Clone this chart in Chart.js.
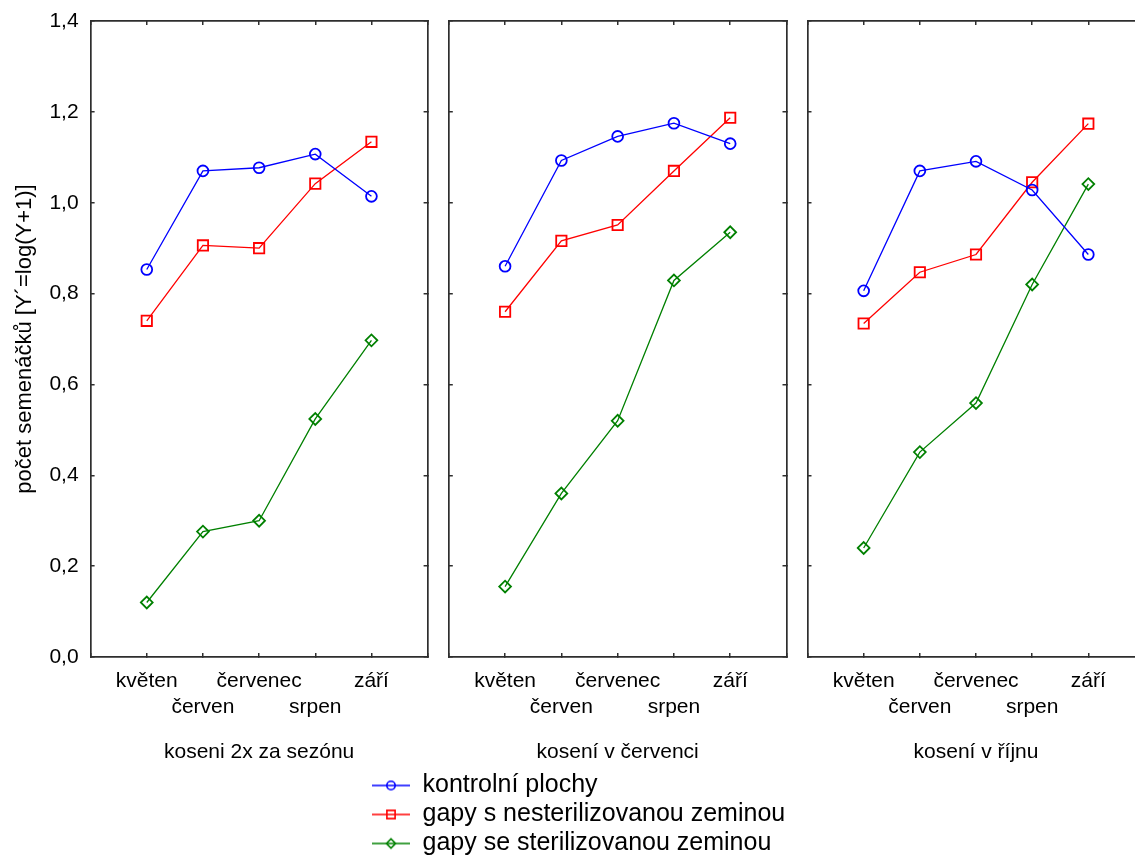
<!DOCTYPE html>
<html><head><meta charset="utf-8">
<script src="https://cdn.jsdelivr.net/npm/chart.js@4.4.1/dist/chart.umd.min.js"></script>
<style>
html,body{margin:0;padding:0;background:#fff;overflow:hidden;width:1135px;height:855px;position:relative;}
canvas{position:absolute;top:0;}
</style></head><body>
<canvas id="c1" width="440" height="855" style="left:0px"></canvas>
<canvas id="c2" width="440" height="855" style="left:368px"></canvas>
<canvas id="c3" width="365" height="855" style="left:795px"></canvas>
<script>
// ---- data ----
const months = ['květen', 'červen', 'červenec', 'srpen', 'září'];
const panelTitles = ['koseni 2x za sezónu', 'kosení v červenci', 'kosení v říjnu'];
const seriesNames = ['kontrolní plochy', 'gapy s nesterilizovanou zeminou', 'gapy se sterilizovanou zeminou'];
const yAxisTitle = 'počet semenáčků [Y´=log(Y+1)]';

const kontrolni2x = [0.853, 1.070, 1.077, 1.107, 1.014];
const nesteril2x  = [0.740, 0.906, 0.900, 1.042, 1.134];
const steril2x    = [0.120, 0.276, 0.300, 0.524, 0.697];

const kontrolniCervenec = [0.860, 1.093, 1.146, 1.175, 1.130];
const nesterilCervenec  = [0.760, 0.916, 0.951, 1.070, 1.187];
const sterilCervenec    = [0.155, 0.360, 0.520, 0.829, 0.935];

const kontrolniRijen = [0.806, 1.070, 1.091, 1.028, 0.886];
const nesterilRijen  = [0.734, 0.847, 0.886, 1.045, 1.174];
const sterilRijen    = [0.240, 0.451, 0.559, 0.820, 1.041];

const yMin = 0, yMax = 1.4, yStep = 0.2;

// ---- styles ----
const FONT = "'Liberation Sans', Arial, Helvetica, sans-serif";
const frameColor = '#2e2e2e';
const seriesColors = ['#0000ff', '#ff0000', '#008000'];
const seriesPointStyles = ['circle', 'rect', 'rectRot'];
const seriesRadius = [5.4, 7.3, 5.9];
const TL = -4;

Chart.defaults.font.family = FONT;
Chart.defaults.color = '#000';

function legendIcon(i) {
  const c = document.createElement('canvas');
  c.width = 38; c.height = 14;
  const g = c.getContext('2d');
  g.strokeStyle = seriesColors[i];
  g.fillStyle = 'rgba(0,0,0,0)';
  g.lineWidth = 1.6;
  g.beginPath(); g.moveTo(0, 7); g.lineTo(38, 7); g.stroke();
  Chart.helpers.drawPoint(g, {pointStyle: seriesPointStyles[i], radius: [4.2, 5.8, 4.6][i], borderWidth: 1.6, rotation: 0}, 19, 7);
  return c;
}

function xLabel(v) {
  const i = Math.round(v);
  if (Math.abs(v - i) > 1e-6 || i < 0 || i >= months.length) return '';
  return i % 2 === 0 ? [months[i], ''] : ['', months[i]];
}

function makeDatasets(arrs) {
  return arrs.map((vals, s) => ({
    label: seriesNames[s],
    data: vals.map((v, i) => ({x: i, y: v})),
    borderColor: seriesColors[s],
    borderWidth: 1.3,
    pointStyle: seriesPointStyles[s],
    pointRadius: seriesRadius[s],
    pointBorderWidth: 1.8,
    pointBorderColor: seriesColors[s],
    pointBackgroundColor: 'rgba(0,0,0,0)',
    fill: false,
    tension: 0,
    clip: false
  }));
}

function gridOpts() {
  return {drawOnChartArea: false, drawTicks: true, tickLength: TL, color: frameColor, lineWidth: 1.5};
}
function borderOpts() { return {display: true, color: frameColor, width: 1.7}; }
function noPad(s) { s.paddingTop = 0; s.paddingBottom = 0; s.paddingLeft = 0; s.paddingRight = 0; }

function makeChart(id, idx, arrs, leftW, rightW, withLegend) {
  const scales = {
    x: {
      type: 'linear', position: 'bottom', min: -1, max: 5,
      ticks: {stepSize: 1, autoSkip: false, maxRotation: 0, minRotation: 0, padding: 16,
              color: '#000', font: {family: FONT, size: 21, lineHeight: 1.2}, callback: xLabel},
      grid: gridOpts(), border: borderOpts(),
      title: {display: true, text: panelTitles[idx], color: '#000',
              font: {family: FONT, size: 21, lineHeight: 1.2}, padding: {top: 0, bottom: 3.7}},
      afterFit(s) { s.height = 112; noPad(s); }
    },
    xTop: {
      type: 'linear', position: 'top', min: -1, max: 5,
      ticks: {stepSize: 1, display: false},
      grid: gridOpts(), border: borderOpts(),
      afterFit(s) { s.height = 21; noPad(s); }
    },
    y: {
      type: 'linear', position: 'left', min: yMin, max: yMax,
      ticks: {stepSize: yStep, display: idx === 0, padding: 16, color: '#000',
              font: {family: FONT, size: 21},
              callback: v => v.toFixed(1).replace('.', ',')},
      grid: gridOpts(), border: borderOpts(),
      title: {display: idx === 0, text: yAxisTitle, color: '#000',
              font: {family: FONT, size: 22, lineHeight: 1.2}, padding: {top: 11.8, bottom: 0}},
      afterFit(s) { s.width = leftW; noPad(s); }
    },
    yRight: {
      type: 'linear', position: 'right', min: yMin, max: yMax,
      ticks: {stepSize: yStep, display: false},
      grid: gridOpts(), border: borderOpts(),
      afterFit(s) { s.width = rightW; noPad(s); }
    }
  };
  return new Chart(document.getElementById(id), {
    type: 'line',
    data: {datasets: makeDatasets(arrs)},
    options: {
      responsive: false, animation: false, events: [],
      layout: {padding: {top: 0, left: 0, right: 0, bottom: withLegend ? 0 : 86}},
      scales,
      plugins: {
        tooltip: {enabled: false},
        legend: withLegend ? {
          display: true, position: 'bottom', align: 'start', maxHeight: 86,
          labels: {
            usePointStyle: true, pointStyleWidth: 38, padding: 4,
            color: '#000', font: {family: FONT, size: 25},
            generateLabels(chart) {
              return chart.data.datasets.map((ds, i) => ({
                text: ds.label, pointStyle: legendIcon(i), fillStyle: 'rgba(0,0,0,0)',
                strokeStyle: ds.borderColor, lineWidth: 0, hidden: false, datasetIndex: i, fontColor: '#000'
              }));
            }
          }
        } : {display: false}
      }
    }
  });
}

makeChart('c1', 0, [kontrolni2x, nesteril2x, steril2x], 90.6, 12.4, false);
makeChart('c2', 1, [kontrolniCervenec, nesterilCervenec, sterilCervenec], 80.8, 21.5, true);
makeChart('c3', 2, [kontrolniRijen, nesterilRijen, sterilRijen], 12.5, 15.5, false);
</script>
</body></html>
